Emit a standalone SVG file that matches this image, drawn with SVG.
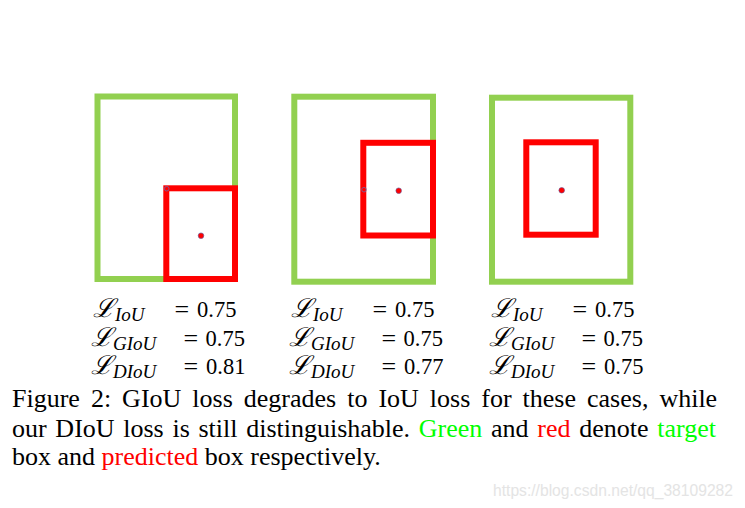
<svg xmlns="http://www.w3.org/2000/svg" width="745" height="508" viewBox="0 0 745 508">
<style>
.g{fill:none;stroke:#92d050;stroke-width:6}
.r{fill:none;stroke:#ff0000;stroke-width:6}
.dot{fill:#ff0000;stroke:#5a5aa0;stroke-width:0.6}
.ring{fill:none;stroke:#6a6aa8;stroke-width:0.8}
.L{font-family:"DejaVu Serif",serif;font-size:26px;font-style:italic}
.sub{font-family:"Liberation Serif",serif;font-size:19px;font-style:italic}
.eq{font-family:"Liberation Serif",serif;font-size:26px}
.m{font-family:"Liberation Serif",serif;font-size:22.5px}
.cap{font-family:"Liberation Serif","Times New Roman",serif;font-size:26px;fill:#000}
.wm{font-family:"Liberation Sans",Arial,sans-serif;font-size:16px;fill:#e4e4e4}
</style>
<rect width="745" height="508" fill="#fff"/>
<g id="case1">
<rect class="g" x="97.5" y="96.5" width="137.5" height="182.5"/>
<rect class="r" x="166.3" y="188.3" width="68.7" height="90.7"/>
<circle class="ring" cx="166.7" cy="188.7" r="2.3"/>
<circle class="dot" cx="201" cy="235.7" r="2.8"/>
</g>
<g id="case2">
<rect class="g" x="294.3" y="96.7" width="138.7" height="185"/>
<rect class="r" x="363.3" y="142.8" width="69.7" height="92.7"/>
<circle class="ring" cx="364" cy="189.7" r="2.3"/>
<circle class="dot" cx="398.7" cy="190.7" r="2.8"/>
</g>
<g id="case3">
<rect class="g" x="492" y="97.7" width="138.3" height="184"/>
<rect class="r" x="526.3" y="142.3" width="69.4" height="92.4"/>
<circle class="dot" cx="561.7" cy="190.3" r="2.8"/>
</g>
<g id="eq1">
<text class="L" x="93" y="316.7">ℒ</text><text class="sub" x="115" y="320.5">IoU</text><text class="eq" x="174.5" y="318">=</text><text class="m" x="197" y="316.7">0.75</text>
<text class="L" x="91" y="345.7">ℒ</text><text class="sub" x="113" y="349.5">GIoU</text><text class="eq" x="183.5" y="347">=</text><text class="m" x="205.5" y="345.7">0.75</text>
<text class="L" x="91" y="374">ℒ</text><text class="sub" x="113" y="377.8">DIoU</text><text class="eq" x="183.5" y="375.3">=</text><text class="m" x="206" y="374">0.81</text>
</g>
<g id="eq2" transform="translate(198,0)">
<text class="L" x="93" y="316.7">ℒ</text><text class="sub" x="115" y="320.5">IoU</text><text class="eq" x="174.5" y="318">=</text><text class="m" x="197" y="316.7">0.75</text>
<text class="L" x="91" y="345.7">ℒ</text><text class="sub" x="113" y="349.5">GIoU</text><text class="eq" x="183.5" y="347">=</text><text class="m" x="205.5" y="345.7">0.75</text>
<text class="L" x="91" y="374">ℒ</text><text class="sub" x="113" y="377.8">DIoU</text><text class="eq" x="183.5" y="375.3">=</text><text class="m" x="206" y="374">0.77</text>
</g>
<g id="eq3" transform="translate(398,0)">
<text class="L" x="93" y="316.7">ℒ</text><text class="sub" x="115" y="320.5">IoU</text><text class="eq" x="174.5" y="318">=</text><text class="m" x="197" y="316.7">0.75</text>
<text class="L" x="91" y="345.7">ℒ</text><text class="sub" x="113" y="349.5">GIoU</text><text class="eq" x="183.5" y="347">=</text><text class="m" x="205.5" y="345.7">0.75</text>
<text class="L" x="91" y="374">ℒ</text><text class="sub" x="113" y="377.8">DIoU</text><text class="eq" x="183.5" y="375.3">=</text><text class="m" x="206" y="374">0.75</text>
</g>
<g id="caption">
<text class="cap" x="12" y="406.7" word-spacing="4.5">Figure 2: GIoU loss degrades to IoU loss for these cases, while</text>
<text class="cap" x="12" y="436.7" word-spacing="2.2">our DIoU loss is still distinguishable. <tspan fill="#00ff00">Green</tspan> and <tspan fill="#ff0000">red</tspan> denote <tspan fill="#00ff00">target</tspan></text>
<text class="cap" x="12" y="464.5">box and <tspan fill="#ff0000">predicted</tspan> box respectively.</text>
</g>
<text class="wm" x="493" y="496" textLength="240" lengthAdjust="spacingAndGlyphs">https://blog.csdn.net/qq_38109282</text>
</svg>
